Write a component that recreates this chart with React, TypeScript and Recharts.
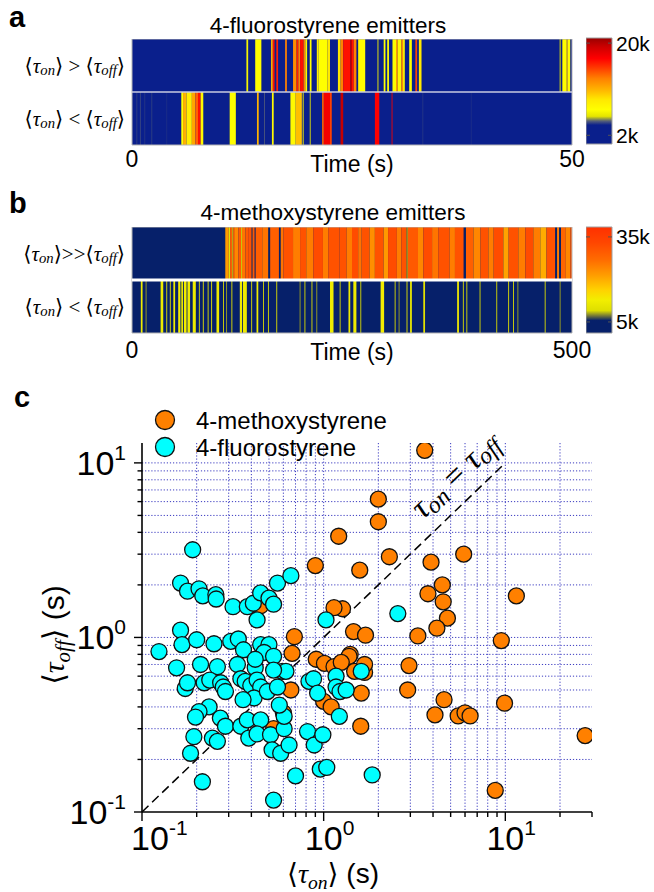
import React from 'react';
import {
  ComposedChart,
  ScatterChart,
  Scatter,
  XAxis,
  YAxis,
  CartesianGrid,
  ReferenceArea,
  ReferenceLine,
  ReferenceDot,
  Legend,
} from 'recharts';

const SANS = '"Liberation Sans", Arial, Helvetica, sans-serif';
const SERIF = '"Liberation Serif", "DejaVu Serif", "Times New Roman", serif';

// ---- Panel a: 4-fluorostyrene emitters, 0–50 s. Segments: [start s, end s, intensity in k counts]
const fluoroOnGtOff: [number, number, number][] = [
  [13.0, 13.2, 6.5], [14.0, 14.7, 7.2], [15.8, 16.0, 11], [16.0, 16.2, 16.5], [16.4, 16.6, 16],
  [17.4, 17.6, 13], [18.3, 18.7, 12.5], [18.7, 18.9, 16], [18.9, 19.1, 13], [19.1, 19.5, 16.5],
  [19.5, 19.7, 13], [19.7, 19.9, 7.5], [20.2, 20.4, 7], [21.0, 21.2, 8.5], [21.2, 22.2, 7.0],
  [22.2, 22.5, 9], [23.4, 23.7, 9], [23.7, 24.0, 13], [24.0, 24.8, 16.5], [24.8, 25.0, 19.5],
  [25.0, 25.2, 16.5], [25.2, 25.5, 13], [25.7, 26.5, 7.3], [27.9, 28.0, 6.5], [28.6, 28.8, 7],
  [29.0, 29.2, 7], [29.6, 30.0, 7.2], [30.0, 30.2, 12], [30.2, 30.6, 7.5], [30.6, 30.8, 12.5],
  [30.8, 31.0, 8], [31.5, 31.8, 7.2], [32.2, 32.4, 15], [32.6, 32.9, 9], [48.6, 48.7, 6.5],
  [48.9, 49.4, 7.2], [49.4, 49.5, 11], [49.5, 49.8, 7.2],
];
const fluoroOnLtOff: [number, number, number][] = [
  [0.5, 0.6, 4.4], [0.9, 1.0, 4.5], [1.4, 1.5, 4.3], [2.2, 2.3, 4.4], [3.9, 4.0, 4.2],
  [5.6, 5.8, 7], [5.8, 6.2, 11], [6.2, 6.8, 8.5], [6.8, 7.2, 11.5], [7.2, 7.5, 14],
  [7.5, 7.8, 16.5], [7.8, 8.1, 7.5], [11.1, 11.8, 7.2], [14.2, 14.4, 11], [15.0, 15.1, 4.7],
  [15.9, 16.1, 7.5], [18.0, 18.6, 7.5], [18.6, 19.3, 10.5], [19.4, 19.5, 7], [20.2, 20.3, 6],
  [21.6, 21.8, 14], [21.8, 22.5, 17.5], [22.5, 22.7, 15], [23.7, 24.0, 19.5], [27.6, 28.1, 17],
  [29.5, 29.6, 17.5], [33.0, 33.1, 4.3], [38.5, 38.6, 4.2],
];

// ---- Panel b: 4-methoxystyrene emitters, 0–500 s
const methoxyOnGgOff: [number, number, number][] = [
  [106, 110, 22], [110, 111.5, 10], [111.5, 114, 29], [114, 115, 9], [115, 117, 27], [117, 121, 24],
  [121, 124, 30], [124, 125, 9], [125, 129, 26], [129, 132, 30], [132, 136, 31], [136, 137, 6],
  [137, 139.5, 30], [139.5, 140.5, 5], [140.5, 148, 29], [148, 155, 26], [155, 157, 2.5],
  [157, 167, 29], [167, 169, 2.5], [169, 172, 26], [172, 183, 31], [183, 191, 25], [191, 198, 31],
  [198, 206, 25], [206, 217, 32], [217, 223, 25], [223, 236, 31], [236, 244, 31], [244, 250, 25],
  [250, 257, 32], [257, 261, 26], [261, 270, 31], [270, 276, 23], [276, 286, 31], [286, 291, 22],
  [291, 301, 32], [301, 306, 25], [306, 312, 31], [312, 313.5, 8], [313.5, 325, 30], [325, 331, 24],
  [331, 341, 32], [341, 348, 26], [348, 361, 31], [361, 367, 25], [367, 377, 31], [377, 379.5, 2.5],
  [379.5, 388, 29], [388, 396, 24], [396, 405, 31], [405, 411, 25], [411, 422, 32], [422, 428, 21],
  [428, 439, 31], [439, 447, 25], [447, 456, 32], [456, 464, 25], [464, 471, 20], [471, 481, 31],
  [481, 483, 2.5], [483, 485.5, 25], [485.5, 487.5, 2.5], [487.5, 493, 28], [493, 498, 24],
  [498, 500, 30],
];
const methoxyOnLtOff: [number, number, number][] = [
  [10, 12, 12], [15.5, 16.5, 8], [32.5, 35.5, 12], [39, 40, 11], [43, 44, 10], [47, 49, 12],
  [52.5, 55, 13], [56, 58, 11], [59, 62, 13], [63, 66, 12], [69, 72.5, 12], [76, 77, 9],
  [80.5, 81.5, 11], [86, 87, 10], [90, 91, 12], [96, 99, 12], [103.5, 104.5, 9], [107, 108, 8],
  [113, 114, 11], [122.5, 125, 12], [126, 130.5, 12], [135.5, 136.5, 10], [141.5, 143.5, 12],
  [149, 150, 9], [154.5, 155.5, 9], [164, 165, 10], [190.5, 191.5, 8], [196, 197, 9],
  [204, 205, 10], [209.5, 210.5, 8], [225, 229, 12], [236, 237, 9], [246, 248, 12],
  [251.5, 255, 12], [259.5, 260.5, 9], [282.5, 286.5, 13], [298.5, 299.5, 9], [303, 304, 8],
  [312, 313, 11], [316, 318, 12], [331, 333, 10], [369.5, 371.5, 13], [376, 377, 9],
  [380, 381, 9], [395, 396, 9], [414, 415, 9], [427.5, 428.5, 10], [433, 434, 9],
  [438, 439, 8], [469, 470, 9], [486, 487, 8],
];

const fluoroTimeTicks = [0, 50];
const methoxyTimeTicks = [0, 500];
const fluoroScaleTicks = [2, 20];
const methoxyScaleTicks = [5, 35];

// colour maps: [k counts, colour]
const fluoroColormap: [number, string][] = [
  [0.3, '#0a1f8c'], [4.0, '#0a1f8c'], [4.8, '#56607a'], [5.7, '#e4e400'], [7.0, '#ffff00'],
  [9.0, '#ffe800'], [10.9, '#ffb400'], [13.1, '#ff8000'], [15.4, '#ff3300'], [17.0, '#ff0000'],
  [19.3, '#cc0000'], [21.0, '#990000'],
];
const methoxyColormap: [number, string][] = [
  [1.1, '#06206a'], [5.5, '#06206a'], [7.0, '#6a6e3c'], [9.0, '#dede00'], [12.7, '#f2ee00'],
  [16.3, '#ffd200'], [21.6, '#ff9c00'], [26.9, '#ff6c00'], [33.0, '#ff4600'], [38.5, '#ff3000'],
];

// ---- Panel c: mean on/off times (s), [<τon>, <τoff>]
const methoxyPoints: [number, number][] = [
  [3.6, 11.8], [2.0, 6.2], [2.0, 4.6], [1.21, 3.8], [2.3, 2.9], [5.9, 3.0], [1.58, 2.43],
  [3.9, 2.7], [0.9, 2.58], [4.5, 2.0], [3.75, 1.78], [4.55, 1.6], [11.5, 1.73], [4.8, 1.29],
  [4.2, 1.13], [3.3, 1.02], [9.5, 0.96], [1.27, 1.46], [1.14, 1.48], [0.45, 1.52], [1.46, 1.08],
  [1.7, 1.03], [0.69, 1.01], [1.4, 0.8], [0.67, 0.81], [0.91, 0.75], [1.01, 0.71], [1.14, 0.68],
  [1.38, 0.78], [1.48, 0.64], [1.68, 0.63], [1.68, 0.7], [1.25, 0.72], [0.66, 0.5], [1.0, 0.43],
  [1.1, 0.4], [1.61, 0.48], [1.6, 0.31], [0.53, 0.3], [0.6, 0.37], [2.95, 0.69], [2.9, 0.5],
  [4.6, 0.44], [4.1, 0.36], [5.5, 0.355], [6.0, 0.37], [6.4, 0.355], [9.9, 0.42], [27.5, 0.274],
  [8.8, 0.133],
];
const fluoroPoints: [number, number][] = [
  [0.19, 3.18], [0.163, 2.05], [0.178, 1.84], [0.206, 1.9], [0.216, 1.73], [0.255, 1.76],
  [0.256, 1.66], [0.317, 1.5], [0.38, 1.5], [0.41, 1.57], [0.45, 1.8], [0.5, 1.68], [0.53, 1.55],
  [0.557, 2.05], [0.66, 2.26], [0.43, 1.26], [1.03, 1.26], [2.56, 1.37], [0.163, 1.1],
  [0.166, 0.91], [0.124, 0.83], [0.2, 0.97], [0.249, 0.92], [0.308, 0.95], [0.339, 0.98],
  [0.362, 0.85], [0.45, 0.91], [0.5, 0.91], [0.47, 0.82], [0.53, 0.78], [0.155, 0.67], [0.21, 0.7],
  [0.26, 0.68], [0.335, 0.7], [0.42, 0.67], [0.42, 0.75], [0.593, 0.64], [0.173, 0.51],
  [0.178, 0.55], [0.22, 0.55], [0.236, 0.57], [0.271, 0.55], [0.28, 0.52], [0.288, 0.49],
  [0.35, 0.58], [0.37, 0.56], [0.397, 0.53], [0.43, 0.57], [0.45, 0.52], [0.414, 0.45],
  [0.36, 0.44], [0.49, 0.49], [0.557, 0.52], [0.62, 0.64], [0.53, 0.65], [0.234, 0.4],
  [0.206, 0.376], [0.197, 0.35], [0.27, 0.345], [0.288, 0.31], [0.244, 0.265], [0.26, 0.254],
  [0.193, 0.27], [0.185, 0.217], [0.215, 0.149], [0.35, 0.31], [0.38, 0.337], [0.45, 0.337],
  [0.387, 0.265], [0.43, 0.28], [0.51, 0.277], [0.606, 0.3], [0.606, 0.353], [0.57, 0.41],
  [0.52, 0.227], [0.58, 0.217], [0.645, 0.242], [0.815, 0.289], [0.887, 0.242], [0.99, 0.277],
  [0.83, 0.56], [0.88, 0.58], [0.926, 0.48], [1.17, 0.6], [1.17, 0.52], [1.23, 0.49], [1.33, 0.5],
  [1.22, 0.353], [1.61, 0.64], [0.7, 0.161], [0.958, 0.176], [1.04, 0.18], [0.53, 0.117],
  [1.85, 0.163],
];

const logTicksX = [0.1, 0.2, 0.3, 0.4, 0.5, 0.6, 0.7, 0.8, 0.9, 1, 2, 3, 4, 5, 6, 7, 8, 9, 10, 20, 30];
const logTicksY = [0.1, 0.2, 0.3, 0.4, 0.5, 0.6, 0.7, 0.8, 0.9, 1, 2, 3, 4, 5, 6, 7, 8, 9, 10];
const gridX = [0.2, 0.3, 0.4, 0.5, 0.6, 0.7, 0.8, 0.9, 1, 2, 3, 4, 5, 6, 7, 8, 9, 10, 20];
const gridY = [0.2, 0.3, 0.4, 0.5, 0.6, 0.7, 0.8, 0.9, 1, 2, 3, 4, 5, 6, 7, 8, 9, 10];

const seriesOrder = ['4-methoxystyrene', '4-fluorostyrene'];
const ORANGE = '#ff8000';
const CYAN = '#00ffff';

// ---------- helpers ----------
function hexToRgb(h: string) {
  const n = parseInt(h.slice(1), 16);
  return [(n >> 16) & 255, (n >> 8) & 255, n & 255];
}
function colorAt(stops: [number, string][], v: number) {
  if (v <= stops[0][0]) return stops[0][1];
  for (let i = 1; i < stops.length; i++) {
    if (v <= stops[i][0]) {
      const [v0, c0] = stops[i - 1];
      const [v1, c1] = stops[i];
      const f = (v - v0) / (v1 - v0);
      const a = hexToRgb(c0);
      const b = hexToRgb(c1);
      const m = a.map((x, k) => Math.round(x + (b[k] - x) * f));
      return `rgb(${m[0]},${m[1]},${m[2]})`;
    }
  }
  return stops[stops.length - 1][1];
}

// vertical gradient running through the colour map over a value range
function Gradient({ id, cmap, domain }: { id: string; cmap: [number, string][]; domain: [number, number] }) {
  return (
    <linearGradient id={id} x1="0" y1="1" x2="0" y2="0">
      {cmap.map(([v, c], i) => (
        <stop key={i} offset={Math.min(1, Math.max(0, (v - domain[0]) / (domain[1] - domain[0])))} stopColor={c} />
      ))}
    </linearGradient>
  );
}

const tauSpans = (sub: string, fs: number, key: string) => [
  <tspan key={key + 'l'} fontStyle="normal">⟨</tspan>,
  <tspan key={key + 't'} fontStyle="italic">τ</tspan>,
  <tspan key={key + 's'} fontStyle="italic" fontSize={fs * 0.7} dy={fs * 0.2}>{sub}</tspan>,
  <tspan key={key + 'r'} fontStyle="normal" dy={-fs * 0.2}>⟩</tspan>,
];

const NoMark = () => <g />;

// ---------- heat-map strip ----------
type Seg = [number, number, number];
function Strip(props: {
  top: number;
  rows: Seg[][];
  labels: string[];
  tMax: number;
  ticks: number[];
  cmap: [number, string][];
  navy: string;
  sepColor: string;
  sepWidth: number;
  tickDy: number;
}) {
  const { top, rows, labels, tMax, ticks, cmap, navy, sepColor, sepWidth, tickDy } = props;
  const anchors = rows.flatMap((segs, r) => segs.map(([t0]) => ({ t: t0, r: r + 0.5 })));
  const TimeTick = (p: any) => (
    <text x={p.x} y={p.y + tickDy} textAnchor="middle" fontFamily={SANS} fontSize={23} fill="#000">
      {p.payload.value}
    </text>
  );
  const RowTick = (p: any) => {
    const idx = p.payload.value < 1 ? 0 : 1;
    return (
      <text x={p.x - 7} y={p.y} textAnchor="end" dominantBaseline="central" fontFamily={SERIF} fontSize={21} fill="#000">
        {tauSpans('on', 21, 'a')}
        <tspan style={{ whiteSpace: 'pre' }}>{labels[idx]}</tspan>
        {tauSpans('off', 21, 'b')}
      </text>
    );
  };
  return (
    <div style={{ position: 'absolute', left: 0, top }}>
      <ComposedChart width={600} height={146} data={anchors} margin={{ top: 0, right: 28, bottom: 0, left: 0 }}>
        <XAxis
          type="number"
          dataKey="t"
          domain={[0, tMax]}
          ticks={ticks}
          interval={0}
          allowDataOverflow
          height={40}
          tickLine={false}
          axisLine={false}
          tickSize={0}
          tickMargin={0}
          tick={TimeTick}
          label={{ value: 'Time (s)', position: 'insideTop', offset: 10.5, fill: '#000', fontSize: 23, fontFamily: SANS }}
        />
        <YAxis
          type="number"
          dataKey="r"
          domain={[0, 2]}
          ticks={[0.5, 1.5]}
          interval={0}
          allowDataOverflow
          width={132}
          tickLine={false}
          axisLine={false}
          tickSize={0}
          tickMargin={0}
          tick={RowTick}
        />
        {rows.map((_, r) => (
          <ReferenceArea key={'bg' + r} x1={0} x2={tMax} y1={r} y2={r + 1} fill={navy} fillOpacity={1} stroke="none" ifOverflow="visible" />
        ))}
        {rows.flatMap((segs, r) =>
          segs.map(([t0, t1, v], i) => (
            <ReferenceArea
              key={`s${r}-${i}`}
              x1={t0}
              x2={t1}
              y1={r}
              y2={r + 1}
              fill={colorAt(cmap, v)}
              fillOpacity={1}
              stroke="none"
              ifOverflow="visible"
            />
          ))
        )}
        <ReferenceLine y={1} stroke={sepColor} strokeWidth={sepWidth} ifOverflow="visible" />
        <ReferenceArea x1={0} x2={tMax} y1={0} y2={2} fill="none" fillOpacity={0} stroke="#b4b4b4" strokeWidth={1} ifOverflow="visible" />
        <Scatter data={anchors} dataKey="r" shape={NoMark} isAnimationActive={false} legendType="none" />
      </ComposedChart>
    </div>
  );
}

// ---------- colour bar ----------
function ColorBar(props: { top: number; domain: [number, number]; ticks: number[]; gradientId: string }) {
  const { top, domain, ticks, gradientId } = props;
  const anchors = ticks.map((v) => ({ c: 0.5, v }));
  const ScaleTick = (p: any) => (
    <g>
      <line x1={p.x - 26} x2={p.x - 22} y1={p.y} y2={p.y} stroke="#555" strokeWidth={1} />
      <line x1={p.x - 4} x2={p.x} y1={p.y} y2={p.y} stroke="#555" strokeWidth={1} />
      <text x={p.x + 4} y={p.y + 7.5} textAnchor="start" fontFamily={SANS} fontSize={21} fill="#000">
        {p.payload.value}k
      </text>
    </g>
  );
  return (
    <div style={{ position: 'absolute', left: 586, top: top - 12 }}>
      <ComposedChart width={68} height={130} data={anchors} margin={{ top: 12, right: 0, bottom: 12, left: 0 }}>
        <XAxis type="number" dataKey="c" domain={[0, 1]} hide allowDataOverflow />
        <YAxis
          type="number"
          dataKey="v"
          orientation="right"
          domain={domain}
          ticks={ticks}
          interval={0}
          allowDataOverflow
          width={42}
          tickLine={false}
          axisLine={false}
          tickSize={0}
          tickMargin={0}
          tick={ScaleTick}
        />
        <ReferenceArea
          x1={0}
          x2={1}
          y1={domain[0]}
          y2={domain[1]}
          fill={`url(#${gradientId})`}
          fillOpacity={1}
          stroke="#a0a0a0"
          strokeWidth={1}
          ifOverflow="visible"
        />
        <Scatter data={anchors} dataKey="v" shape={NoMark} isAnimationActive={false} legendType="none" />
      </ComposedChart>
    </div>
  );
}

// ---------- scatter pieces ----------
const isDecade = (v: number) => Math.abs(Math.log10(v) - Math.round(Math.log10(v))) < 1e-6;

const XTick = (p: any) => {
  const v = p.payload.value;
  const major = isDecade(v);
  const e = Math.round(Math.log10(v));
  const shift = e < 0 ? 8 : 0;
  return (
    <g>
      <line x1={p.x} x2={p.x} y1={p.y} y2={p.y + (major ? 9 : 5)} stroke="#000" strokeWidth={1.4} />
      {major && (
        <text x={p.x + shift} y={p.y + 38} textAnchor="middle" fontFamily={SANS} fontSize={34} fill="#000">
          10
        </text>
      )}
      {major && (
        <text x={p.x + shift + 19} y={p.y + 23} textAnchor="start" fontFamily={SANS} fontSize={21} fill="#000">
          {e}
        </text>
      )}
    </g>
  );
};

const YTick = (p: any) => {
  const v = p.payload.value;
  const major = isDecade(v);
  const e = Math.round(Math.log10(v));
  return (
    <g>
      <line x1={p.x} x2={p.x - (major ? 8 : 4.5)} y1={p.y} y2={p.y} stroke="#000" strokeWidth={1.4} />
      {major && (
        <text x={p.x - 16} y={p.y + 12} textAnchor="end" fontFamily={SANS} fill="#000">
          <tspan fontSize={34}>10</tspan>
          <tspan fontSize={21} dy={-15}>{e}</tspan>
        </text>
      )}
    </g>
  );
};

const Dot = (p: any) => <circle cx={p.cx} cy={p.cy} r={8} fill={p.fill} stroke="#111" strokeWidth={1.3} />;

const DiagLabel = (p: any) => (
  <text
    x={p.cx}
    y={p.cy}
    transform={`rotate(-43.8 ${p.cx} ${p.cy})`}
    textAnchor="middle"
    dominantBaseline="middle"
    fontFamily={SERIF}
    fontStyle="italic"
    fontSize={33}
    fill="#000"
  >
    τ
    <tspan fontSize={24} dy={6}>on</tspan>
    <tspan dy={-6} fontStyle="normal">{' = '}</tspan>
    <tspan>τ</tspan>
    <tspan fontSize={24} dy={6}>off</tspan>
  </text>
);

const LegendBox = (p: any) => {
  const items = seriesOrder
    .map((name) => (p.payload || []).find((it: any) => it.value === name))
    .filter(Boolean);
  return (
    <div style={{ fontFamily: SANS, fontSize: 24, color: '#000' }}>
      {items.map((it: any) => (
        <div key={it.value} style={{ display: 'flex', alignItems: 'center', height: 27 }}>
          <svg width={22} height={22} style={{ display: 'block' }}>
            <circle cx={11} cy={11} r={9.5} fill={it.color} stroke="#111" strokeWidth={1.3} />
          </svg>
          <span style={{ marginLeft: 20, lineHeight: '27px' }}>{it.value}</span>
        </div>
      ))}
    </div>
  );
};

const FLUORO_BAR: [number, number] = [0.3, 21];
const METHOXY_BAR: [number, number] = [1.1, 38.5];

export default function App() {
  const methoxyData = methoxyPoints.map(([x, y]) => ({ x, y }));
  const fluoroData = fluoroPoints.map(([x, y]) => ({ x, y }));
  return (
    <div style={{ position: 'absolute', left: 0, top: 0, width: 654, height: 892, background: '#fff', overflow: 'hidden' }}>
      <svg width={654} height={892} style={{ position: 'absolute', left: 0, top: 0 }}>
        <defs>
          <Gradient id="fluoroScale" cmap={fluoroColormap} domain={FLUORO_BAR} />
          <Gradient id="methoxyScale" cmap={methoxyColormap} domain={METHOXY_BAR} />
        </defs>
        <text x={9} y={27} fontFamily={SANS} fontWeight="bold" fontSize={29} fill="#000">a</text>
        <text x={328} y={33} textAnchor="middle" fontFamily={SANS} fontSize={22.5} fill="#000">4-fluorostyrene emitters</text>
        <text x={9} y={213} fontFamily={SANS} fontWeight="bold" fontSize={29} fill="#000">b</text>
        <text x={333} y={220} textAnchor="middle" fontFamily={SANS} fontSize={22.5} fill="#000">4-methoxystyrene emitters</text>
        <text x={14} y={407} fontFamily={SANS} fontWeight="bold" fontSize={29} fill="#000">c</text>
        <text x={333} y={883} textAnchor="middle" fontFamily={SERIF} fontSize={28} fill="#000">
          {tauSpans('on', 28, 'x')}
          <tspan fontFamily={SANS}>{' (s)'}</tspan>
        </text>
        <text x={64} y={635} transform="rotate(-90 64 635)" textAnchor="middle" fontFamily={SERIF} fontSize={30} fill="#000">
          {tauSpans('off', 30, 'y')}
          <tspan fontFamily={SANS}>{' (s)'}</tspan>
        </text>
      </svg>

      <Strip
        top={39}
        rows={[fluoroOnLtOff, fluoroOnGtOff]}
        labels={[' < ', ' > ']}
        tMax={50}
        ticks={fluoroTimeTicks}
        cmap={fluoroColormap}
        navy="#0a1f8c"
        sepColor="#c9cbe0"
        sepWidth={1.5}
        tickDy={22}
      />
      <ColorBar top={38} domain={FLUORO_BAR} ticks={fluoroScaleTicks} gradientId="fluoroScale" />

      <Strip
        top={227}
        rows={[methoxyOnLtOff, methoxyOnGgOff]}
        labels={[' < ', '>>']}
        tMax={500}
        ticks={methoxyTimeTicks}
        cmap={methoxyColormap}
        navy="#06206a"
        sepColor="#ffffff"
        sepWidth={3}
        tickDy={25}
      />
      <ColorBar top={227} domain={METHOXY_BAR} ticks={methoxyScaleTicks} gradientId="methoxyScale" />

      <div style={{ position: 'absolute', left: 0, top: 380 }}>
        <ScatterChart width={654} height={512} margin={{ top: 63, right: 62, bottom: 0, left: 0 }}>
          <CartesianGrid
            stroke="#3c3cc0"
            strokeDasharray="1.2 1.9"
            strokeWidth={1}
            horizontalValues={gridY}
            verticalValues={gridX}
          />
          <XAxis
            type="number"
            dataKey="x"
            scale="log"
            domain={[0.1, 30]}
            ticks={logTicksX}
            interval={0}
            allowDataOverflow
            height={80}
            tickLine={false}
            tickSize={0}
            tickMargin={0}
            tick={XTick}
            axisLine={{ stroke: '#000', strokeWidth: 1.6 }}
          />
          <YAxis
            type="number"
            dataKey="y"
            scale="log"
            domain={[0.1, 13]}
            ticks={logTicksY}
            interval={0}
            allowDataOverflow
            width={142}
            tickLine={false}
            tickSize={0}
            tickMargin={0}
            tick={YTick}
            axisLine={{ stroke: '#000', strokeWidth: 1.6 }}
          />
          <ReferenceLine
            segment={[{ x: 0.1, y: 0.1 }, { x: 10, y: 10 }]}
            stroke="#000"
            strokeWidth={1.5}
            strokeDasharray="9 5"
            ifOverflow="visible"
          />
          <ReferenceDot x={5.4} y={8.3} shape={DiagLabel} ifOverflow="visible" />
          <Scatter name="4-methoxystyrene" data={methoxyData} fill={ORANGE} shape={Dot} isAnimationActive={false} />
          <Scatter name="4-fluorostyrene" data={fluoroData} fill={CYAN} shape={Dot} isAnimationActive={false} />
          <Legend
            layout="vertical"
            align="center"
            verticalAlign="middle"
            content={LegendBox}
            wrapperStyle={{ left: 154, top: 26.5, width: 300, height: 54 }}
          />
        </ScatterChart>
      </div>
    </div>
  );
}
